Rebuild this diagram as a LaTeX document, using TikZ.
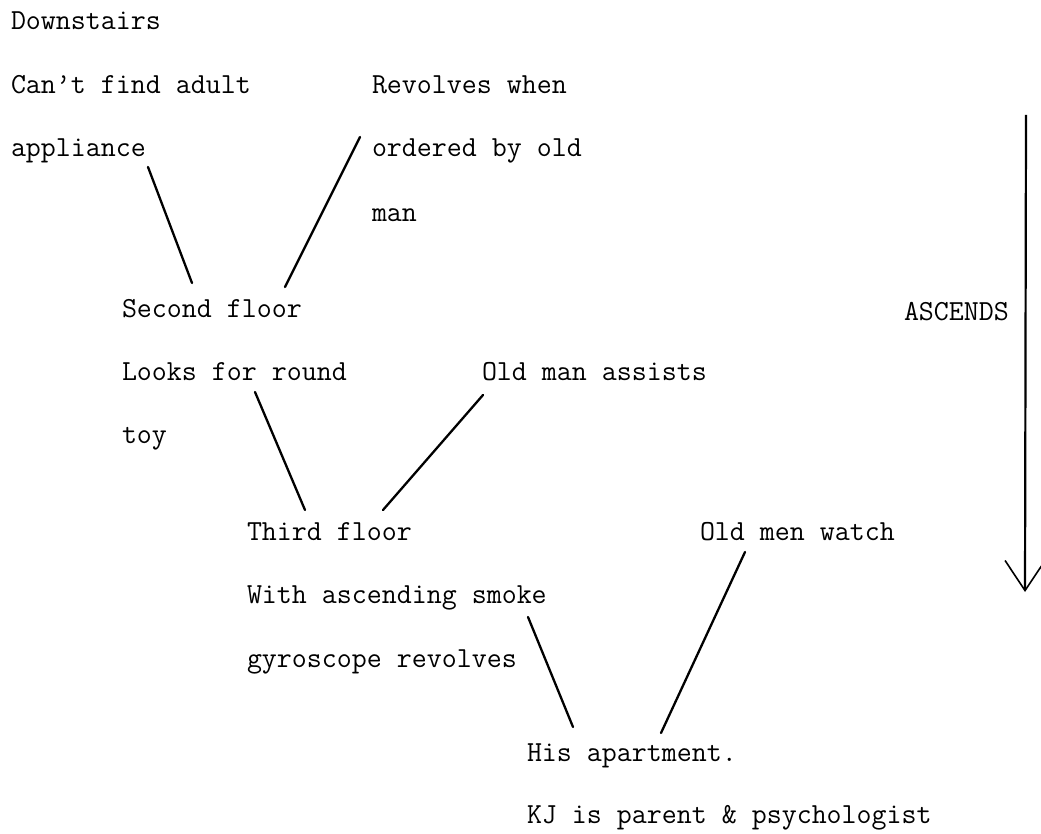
\documentclass[tikz,border=0pt]{standalone}
\usetikzlibrary{calc,arrows.meta}

\tikzset{
  txt/.style={anchor=base west, inner sep=0pt, outer sep=0pt,
              font=\ttfamily\fontsize{29.1pt}{35pt}\selectfont, text=black},
  link/.style={draw=black, line width=2.3pt, line cap=round},
  ascline/.style={draw=black, line width=2.2pt,
                  -{Straight Barb[length=30pt,width=40pt,line width=1.6pt]}}
}

\begin{document}
\begin{tikzpicture}[x=1pt, y=-1pt]
  \useasboundingbox (0,0) rectangle (1041,834);

  % first level
  \node[txt] (down) at (11,30)  {Downstairs};
  \node[txt] (cant) at (11,94)  {Can’t find adult};
  \node[txt] (appl) at (11,157) {appliance};
  \node[txt] (revo) at (372,94)  {Revolves when};
  \node[txt] (orde) at (372,157) {ordered by old};
  \node[txt] (man)  at (372,222) {man};

  % second floor
  \node[txt] (second) at (122,317) {Second floor};
  \node[txt] (looks)  at (122,380) {Looks for round};
  \node[txt] (toy)    at (122,443) {toy};
  \node[txt] (assist) at (482,380) {Old man assists};

  % third floor
  \node[txt] (third) at (247,540) {Third floor};
  \node[txt] (with)  at (247,603) {With ascending smoke};
  \node[txt] (gyro)  at (247,667) {gyroscope revolves};
  \node[txt] (watch) at (700,540) {Old men watch};

  % apartment
  \node[txt] (his) at (527,761) {His apartment.};
  \node[txt] (kj)  at (527,823) {KJ is parent \& psychologist};

  % direction label and arrow
  \node[txt] (asc) at (904,320) {ASCENDS};
  \coordinate (asctop) at (1026,115);
  \coordinate (ascbot) at (1025,592);
  \draw[ascline] (asctop) -- (ascbot);

  % connectors between levels
  \draw[link] ($(appl.base west)+(137,10)$)  -- ($(second.base west)+(70,-34)$);
  \draw[link] ($(orde.base west)+(-12,-20)$) -- ($(second.base west)+(163,-30)$);
  \draw[link] ($(looks.base west)+(133,12)$) -- ($(third.base west)+(58,-30)$);
  \draw[link] ($(assist.base west)+(1,15)$)  -- ($(third.base west)+(136,-30)$);
  \draw[link] ($(with.base west)+(281,14)$)  -- ($(his.base west)+(46,-34)$);
  \draw[link] ($(watch.base west)+(45,12)$)  -- ($(his.base west)+(134,-28)$);
\end{tikzpicture}
\end{document}
